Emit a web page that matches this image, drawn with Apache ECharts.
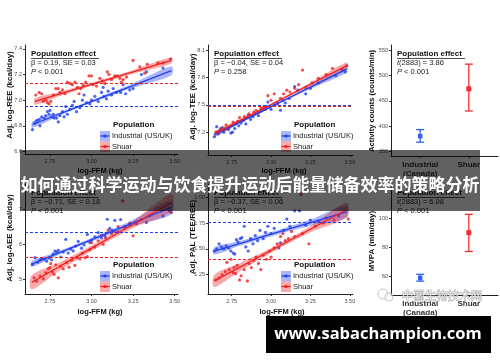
<!DOCTYPE html>
<html><head><meta charset="utf-8">
<script src="https://cdn.jsdelivr.net/npm/echarts@6/dist/echarts.min.js"></script>
<style>html,body{margin:0;padding:0;background:#fff}#c{width:500px;height:362px}</style>
</head><body><div id="c"></div>
<script>
// ---------- DATA ----------
const xTicks = [2.75, 3.00, 3.25, 3.50];
const groupNames = ['Industrial (US/UK)', 'Shuar'];
const catLabels = ['Industrial\n(Canada)', 'Shuar'];

// Panel 1: Adj. log-REE
const reeInd = [[2.645,6.77],[2.66,6.82],[2.67,6.84],[2.685,6.85],[2.69,6.80],[2.70,6.87],[2.715,6.86],[2.725,6.88],[2.735,6.91],[2.745,6.89],[2.75,6.92],[2.76,6.87],[2.77,6.89],[2.775,6.86],[2.79,6.86],[2.80,6.83],[2.81,6.88],[2.825,6.91],[2.835,6.87],[2.845,6.95],[2.855,6.89],[2.87,6.93],[2.885,6.96],[2.895,6.99],[2.91,6.91],[2.93,6.94],[2.945,7.00],[2.955,7.04],[2.97,6.98],[2.99,6.97],[3.00,7.00],[3.02,7.03],[3.04,6.99],[3.06,7.06],[3.07,7.10],[3.075,7.03],[3.09,7.01],[3.10,7.07],[3.12,7.04],[3.13,7.09],[3.15,7.06],[3.175,7.06],[3.19,7.12],[3.205,7.05],[3.23,7.08],[3.25,7.09],[3.30,7.20],[3.33,7.22],[3.43,7.25]];
const reeShu = [[2.665,7.04],[2.685,7.06],[2.70,7.05],[2.71,6.99],[2.725,7.00],[2.735,6.98],[2.745,6.97],[2.755,6.99],[2.77,7.04],[2.785,7.09],[2.80,7.09],[2.81,7.06],[2.825,7.08],[2.84,7.05],[2.855,7.14],[2.87,7.13],[2.885,7.12],[2.90,7.14],[2.915,7.10],[2.925,7.05],[2.935,7.09],[2.95,7.12],[2.965,7.14],[2.985,7.19],[3.00,7.19],[3.01,7.12],[3.03,7.11],[3.05,7.17],[3.065,7.15],[3.08,7.13],[3.095,7.22],[3.105,7.20],[3.12,7.16],[3.14,7.19],[3.155,7.19],[3.17,7.17],[3.18,7.14],[3.19,7.16],[3.21,7.18],[3.25,7.31],[3.29,7.26],[3.32,7.21],[3.335,7.28],[3.40,7.29],[3.43,7.29],[3.475,7.32]];
// fit bands: [x, lower, fit, upper]
const reeIndFit = [[2.645,6.785,6.81,6.835],[2.80,6.874,6.888,6.902],[2.98,6.969,6.979,6.989],[3.25,7.096,7.114,7.132],[3.48,7.195,7.23,7.265]];
const reeShuFit = [[2.66,6.965,6.99,7.015],[2.80,7.028,7.045,7.062],[2.98,7.103,7.115,7.127],[3.25,7.205,7.22,7.235],[3.48,7.285,7.31,7.335]];
const reeMeans = [6.945, 7.13];

// Panel 2: Adj. log-TEE
const teeInd = [[2.64,7.15],[2.655,7.26],[2.665,7.21],[2.68,7.23],[2.69,7.25],[2.70,7.20],[2.715,7.24],[2.73,7.23],[2.745,7.19],[2.755,7.20],[2.76,7.28],[2.77,7.24],[2.785,7.31],[2.795,7.27],[2.81,7.30],[2.825,7.33],[2.84,7.29],[2.855,7.39],[2.87,7.34],[2.885,7.37],[2.90,7.40],[2.92,7.38],[2.935,7.43],[2.95,7.46],[2.97,7.48],[2.98,7.53],[3.00,7.45],[3.02,7.50],[3.04,7.52],[3.06,7.44],[3.075,7.55],[3.09,7.52],[3.115,7.57],[3.15,7.70],[3.17,7.66],[3.22,7.62],[3.25,7.68],[3.30,7.74],[3.41,7.82],[3.47,7.86]];
const teeShu = [[2.65,7.20],[2.665,7.18],[2.68,7.24],[2.70,7.22],[2.715,7.28],[2.73,7.25],[2.745,7.27],[2.76,7.31],[2.775,7.29],[2.79,7.32],[2.80,7.36],[2.815,7.33],[2.83,7.37],[2.845,7.36],[2.86,7.40],[2.875,7.38],[2.89,7.42],[2.905,7.44],[2.92,7.41],[2.935,7.46],[2.95,7.47],[2.965,7.45],[2.98,7.60],[3.00,7.55],[3.02,7.62],[3.04,7.51],[3.06,7.57],[3.08,7.62],[3.10,7.66],[3.12,7.64],[3.15,7.68],[3.175,7.72],[3.20,7.88],[3.22,7.69],[3.26,7.74],[3.30,7.79],[3.35,7.83],[3.39,7.90],[3.45,7.89],[3.48,7.93]];
const teeIndFit = [[2.64,7.145,7.17,7.195],[2.80,7.292,7.307,7.322],[2.98,7.45,7.461,7.472],[3.25,7.675,7.693,7.711],[3.48,7.855,7.89,7.925]];
const teeShuFit = [[2.65,7.165,7.19,7.215],[2.80,7.309,7.324,7.339],[2.98,7.472,7.484,7.496],[3.25,7.705,7.725,7.745],[3.48,7.895,7.93,7.965]];
const teeMeans = [7.50, 7.48];

// Panel 3: Activity counts (mean, lower, upper)
const actInd = [1, 380, 368, 393];
const actShu = [2, 474, 430, 523];

// Panel 4: Adj. log-AEE
const aeeInd = [[2.645,5.43],[2.66,5.62],[2.675,5.49],[2.69,5.55],[2.70,5.60],[2.715,5.58],[2.73,5.52],[2.745,5.61],[2.76,5.56],[2.77,5.73],[2.78,5.81],[2.79,5.78],[2.80,5.83],[2.815,5.64],[2.83,5.78],[2.845,6.14],[2.86,5.75],[2.875,5.86],[2.89,5.81],[2.905,5.95],[2.92,6.08],[2.94,5.89],[2.955,5.98],[2.975,6.28],[2.99,6.05],[3.00,6.12],[3.02,6.21],[3.04,6.33],[3.06,6.18],[3.08,6.24],[3.095,6.71],[3.11,6.45],[3.125,6.40],[3.14,6.68],[3.16,6.35],[3.175,6.70],[3.20,6.50],[3.23,6.55],[3.27,6.58],[3.33,6.62],[3.43,6.80],[3.47,6.94]];
const aeeShu = [[2.655,5.05],[2.67,4.95],[2.69,5.10],[2.71,5.02],[2.725,5.20],[2.74,5.30],[2.75,5.34],[2.755,5.45],[2.765,5.22],[2.775,5.15],[2.785,5.42],[2.80,5.05],[2.815,5.38],[2.83,5.30],[2.85,5.48],[2.865,5.35],[2.88,5.55],[2.90,5.40],[2.915,5.62],[2.93,5.58],[2.945,5.75],[2.96,5.62],[2.975,5.65],[2.99,5.85],[3.00,6.05],[3.02,5.92],[3.04,6.10],[3.06,6.25],[3.07,6.00],[3.085,6.18],[3.10,6.40],[3.12,6.30],[3.14,6.36],[3.16,6.50],[3.188,7.23],[3.20,6.48],[3.23,6.60],[3.25,6.24],[3.30,6.70],[3.35,6.82],[3.42,6.95],[3.48,6.90]];
const aeeIndFit = [[2.64,5.36,5.44,5.52],[2.80,5.697,5.747,5.797],[2.98,6.042,6.092,6.142],[3.25,6.519,6.609,6.699],[3.48,6.85,7.05,7.25]];
const aeeShuFit = [[2.64,4.72,4.92,5.12],[2.80,5.23,5.35,5.47],[2.98,5.755,5.835,5.915],[3.25,6.461,6.561,6.661],[3.48,6.93,7.18,7.43]];
const aeeMeans = [6.33, 5.63];

// Panel 5: Adj. PAL
const palInd = [[2.64,1.48],[2.655,1.50],[2.67,1.55],[2.685,1.52],[2.70,1.50],[2.715,1.53],[2.73,1.51],[2.745,1.48],[2.76,1.46],[2.77,1.45],[2.78,1.59],[2.79,1.57],[2.805,1.60],[2.815,1.61],[2.83,1.72],[2.84,1.52],[2.855,1.48],[2.87,1.60],[2.885,1.55],[2.90,1.63],[2.915,1.58],[2.93,1.68],[2.95,1.60],[2.965,1.66],[2.98,1.72],[3.00,1.65],[3.02,1.70],[3.05,1.51],[3.06,1.56],[3.08,1.68],[3.10,1.79],[3.12,1.72],[3.15,1.87],[3.18,1.87],[3.22,1.73],[3.25,1.78],[3.30,1.77],[3.35,1.80],[3.43,1.82]];
const palShu = [[2.65,1.20],[2.67,1.22],[2.69,1.25],[2.71,1.28],[2.72,1.37],[2.735,1.30],[2.745,1.40],[2.76,1.27],[2.765,1.32],[2.775,1.26],[2.785,1.34],[2.80,1.20],[2.81,1.24],[2.83,1.30],[2.85,1.19],[2.86,1.36],[2.875,1.32],[2.89,1.39],[2.905,1.42],[2.92,1.36],[2.935,1.30],[2.95,1.44],[2.97,1.40],[2.99,1.48],[3.00,1.42],[3.02,1.51],[3.04,1.55],[3.06,1.62],[3.075,1.65],[3.09,1.58],[3.11,1.60],[3.13,1.67],[3.15,1.62],[3.19,2.03],[3.20,1.65],[3.24,1.55],[3.28,1.72],[3.33,1.75],[3.40,1.78],[3.49,1.79]];
const palIndFit = [[2.64,1.445,1.48,1.515],[2.80,1.53,1.552,1.574],[2.98,1.614,1.634,1.654],[3.25,1.726,1.756,1.786],[3.48,1.80,1.86,1.92]];
const palShuFit = [[2.64,1.13,1.19,1.25],[2.80,1.281,1.321,1.361],[2.98,1.444,1.469,1.494],[3.25,1.661,1.691,1.721],[3.48,1.81,1.88,1.95]];
const palMeans = [1.76, 1.40];

// Panel 6: MVPA (mean, lower, upper)
const mvpaInd = [1, 58.7, 56.5, 61.2];
const mvpaShu = [2, 90, 77, 102.7];

// Tick values
const yTicks = [[6.6,6.8,7.0,7.2,7.4],[7.2,7.5,7.8,8.1],[350,400,450,500,550],[5,6,7],[1.25,1.50,1.75,2.00],[60,80,100]];
const yDec = [1,1,0,0,2,0];
const yRange = [[6.58,7.43],[6.95,8.155],[340.6,561],[4.59,7.71],[1.063,2.13],[46.9,123.7]];

// ---------- STYLE ----------
const BLUE = '#2040f0', RED = '#f02020';
const BLUE_BAND = 'rgba(32,64,240,0.38)', RED_BAND = 'rgba(240,32,32,0.38)';
const FF = '"Liberation Sans", Arial, Helvetica, sans-serif';

const grids = [
  {left:25, top:45, width:153, height:109},
  {left:208, top:45, width:145, height:110},
  {left:391, top:45, width:107, height:111},
  {left:25, top:184, width:153, height:110},
  {left:208, top:184, width:145, height:110},
  {left:391, top:184, width:107, height:111}
];
const isCat = [false,false,true,false,false,true];

const xAxes = grids.map((g,i)=>({
  type:'value', gridIndex:i,
  min: isCat[i]?0.4:2.6, max: isCat[i]?2.6:3.52,
  axisLine:{show:true,onZero:false,lineStyle:{color:'#222',width:1}},
  axisTick:{show:true,length:2,lineStyle:{color:'#333'},customValues: isCat[i]?[1,2]:xTicks},
  axisLabel:isCat[i]?{
      customValues:[1,2], formatter:v=>catLabels[Math.round(v)-1],
      fontSize:8, fontWeight:'bold', color:'#333', fontFamily:FF, margin:4, lineHeight:9.5
    }:{customValues:xTicks, formatter:v=>v.toFixed(2), fontSize:5.5, color:'#4d4d4d', fontFamily:FF, margin:4},
  splitLine:{show:false}
}));
const yAxes = grids.map((g,i)=>({
  type:'value', gridIndex:i, min:yRange[i][0], max:yRange[i][1],
  axisLine:{show:true,onZero:false,lineStyle:{color:'#222',width:1}},
  axisTick:{show:true,length:2,lineStyle:{color:'#333'},customValues:yTicks[i]},
  axisLabel:{customValues:yTicks[i], formatter:v=>v.toFixed(yDec[i]), fontSize:5.5, color:'#4d4d4d', fontFamily:FF, margin:3},
  splitLine:{show:false}
}));

function bandSeries(idx, fit, color){
  return {type:'custom', xAxisIndex:idx, yAxisIndex:idx, data:fit, silent:true, z:3,
    renderItem:(params, api)=>{
      if(params.dataIndex!==0) return;
      const pts=[];
      fit.forEach(r=>pts.push(api.coord([r[0],r[3]])));
      fit.slice().reverse().forEach(r=>pts.push(api.coord([r[0],r[1]])));
      return {type:'polygon', shape:{points:pts, smooth:0.3}, style:{fill:color}};
    }};
}
function fitLine(idx, fit, color){
  return {type:'line', xAxisIndex:idx, yAxisIndex:idx, data:fit.map(r=>[r[0],r[2]]),
    showSymbol:false, symbol:'none', smooth:true, lineStyle:{color, width:1.3}, z:4, silent:true};
}
function scatter(idx, data, color, mean){
  return {type:'scatter', xAxisIndex:idx, yAxisIndex:idx, data, symbolSize:3.2,
    itemStyle:{color}, z:2, silent:true,
    markLine:{silent:true, symbol:['none','none'], label:{show:false}, animation:false,
      lineStyle:{type:[3,2], width:1, color}, data:[{yAxis:mean}]}};
}
function errBar(idx, d, color, sq){
  return {type:'custom', xAxisIndex:idx, yAxisIndex:idx, data:[d], silent:true, z:5,
    renderItem:(params, api)=>{
      const m = api.coord([api.value(0), api.value(1)]);
      const lo = api.coord([api.value(0), api.value(2)]);
      const hi = api.coord([api.value(0), api.value(3)]);
      const s={stroke:color, lineWidth:1.3};
      return {type:'group', children:[
        {type:'line', shape:{x1:lo[0],y1:lo[1],x2:hi[0],y2:hi[1]}, style:s},
        {type:'line', shape:{x1:lo[0]-4,y1:lo[1],x2:lo[0]+4,y2:lo[1]}, style:s},
        {type:'line', shape:{x1:hi[0]-4,y1:hi[1],x2:hi[0]+4,y2:hi[1]}, style:s},
        {type:'rect', shape:{x:m[0]-sq/2,y:m[1]-sq/2,width:sq,height:sq}, style:{fill:color}}
      ]};
    }};
}

const series = [];
const panels = [
  [0, reeInd, reeShu, reeIndFit, reeShuFit, reeMeans],
  [1, teeInd, teeShu, teeIndFit, teeShuFit, teeMeans],
  [3, aeeInd, aeeShu, aeeIndFit, aeeShuFit, aeeMeans],
  [4, palInd, palShu, palIndFit, palShuFit, palMeans]
];
panels.forEach(p=>{
  const [i, di, ds, fi, fs, mn] = p;
  series.push(scatter(i, di, BLUE, mn[0]));
  series.push(scatter(i, ds, RED, mn[1]));
  series.push(bandSeries(i, fi, BLUE_BAND));
  series.push(bandSeries(i, fs, RED_BAND));
  series.push(fitLine(i, fi, BLUE));
  series.push(fitLine(i, fs, RED));
});
series.push(errBar(2, actInd, '#3060ee', 4.5));
series.push(errBar(2, actShu, '#f03030', 5));
series.push(errBar(5, mvpaInd, '#3060ee', 4.5));
series.push(errBar(5, mvpaShu, '#f03030', 5));

// ---------- GRAPHIC (text, legends, overlays) ----------
const G = [];
function txt(x,y,t,o){
  o=o||{};
  G.push({type:'text', x, y, rotation:o.rot||0, z:o.z||50, silent:true,
    style:{text:t, fontSize:o.fs||7.5, fontWeight:o.fw||'normal', fontFamily:o.ff||FF,
      fill:o.fill||'#222', align:o.align||'left', verticalAlign:'middle', rich:o.rich}});
}
const RICH = {i:{fontStyle:'italic', fontSize:7.5, fontFamily:FF, fill:'#222'}};
function annot(x,y,l2,l3){
  txt(x,y,'Population effect',{fs:8,fw:'bold',fill:'#111'});
  G.push({type:'rect', z:50, silent:true, shape:{x:x, y:y+4.2, width:68, height:0.8}, style:{fill:'#111'}});
  txt(x,y+9,l2,{rich:RICH});
  txt(x,y+18,l3,{rich:RICH});
}
annot(31,54,'β = 0.19, SE = 0.03','{i|P} < 0.001');
annot(214,54,'β = −0.04, SE = 0.04','{i|P} = 0.258');
annot(397,54,'{i|t}(2883) = 3.86','{i|P} < 0.001');
annot(31,193,'β = −0.71, SE = 0.18','{i|P} < 0.001');
annot(214,193,'β = −0.37, SE = 0.06','{i|P} < 0.001');
annot(397,193,'{i|t}(2883) = 6.08','{i|P} < 0.001');

function legend(x,y){
  txt(x+13,y,'Population',{fs:8,fw:'bold',fill:'#111'});
  [[BLUE,BLUE_BAND],[RED,RED_BAND]].forEach((c,k)=>{
    const cy=y+11+k*10.5;
    G.push({type:'rect', z:45, silent:true, shape:{x:x, y:cy-5, width:10, height:10.5}, style:{fill:c[1]}});
    G.push({type:'line', z:46, silent:true, shape:{x1:x+0.5,y1:cy,x2:x+9.5,y2:cy}, style:{stroke:c[0],lineWidth:1.3}});
    G.push({type:'circle', z:47, silent:true, shape:{cx:x+5,cy:cy,r:1.6}, style:{fill:c[0]}});
    txt(x+12,cy,groupNames[k],{fs:7.5,fill:'#222'});
  });
}
legend(100,125);
legend(281,125);
legend(100,265);
legend(281,265);

// axis titles
const AT = {fw:'bold', fill:'#111'};
txt(100,171,'log-FFM (kg)',Object.assign({fs:7.5,align:'center'},AT));
txt(284,171,'log-FFM (kg)',Object.assign({fs:7.5,align:'center'},AT));
txt(100,311.5,'log-FFM (kg)',Object.assign({fs:7.5,align:'center'},AT));
txt(282,311.5,'log-FFM (kg)',Object.assign({fs:7.5,align:'center'},AT));
const R = Math.PI/2;
txt(9.5,95,'Adj. log-REE (kcal/day)',Object.assign({fs:8,align:'center',rot:R},AT));
txt(193,97,'Adj. log-TEE (kcal/day)',Object.assign({fs:8,align:'center',rot:R},AT));
txt(372,101,'Activity counts (counts/min)',Object.assign({fs:7.6,align:'center',rot:R},AT));
txt(9.5,238,'Adj. log-AEE (kcal/day)',Object.assign({fs:8,align:'center',rot:R},AT));
txt(193,237,'Adj. PAL (TEE/REE)',Object.assign({fs:8,align:'center',rot:R},AT));
txt(372,241,'MVPA (min/day)',Object.assign({fs:8,align:'center',rot:R},AT));

// watermark
G.push({type:'circle', z:60, silent:true, shape:{cx:383,cy:294,r:5}, style:{fill:'rgba(255,255,255,0.6)',stroke:'rgba(150,150,150,0.7)',lineWidth:0.8}});
G.push({type:'circle', z:60, silent:true, shape:{cx:389,cy:297,r:4}, style:{fill:'rgba(255,255,255,0.6)',stroke:'rgba(150,150,150,0.7)',lineWidth:0.8}});
G.push({type:'text', x:442, y:296, z:61, silent:true, style:{text:'中国生物技术网', fontSize:11.5, fontFamily:'"Noto Sans CJK SC", sans-serif',
  fill:'rgba(255,255,255,0.75)', stroke:'rgba(140,140,140,0.8)', lineWidth:0.8, align:'center', verticalAlign:'middle'}});

// title overlay
G.push({type:'rect', z:80, silent:true, shape:{x:20,y:150,width:460,height:61}, style:{fill:'rgba(0,0,0,0.62)'}});
G.push({type:'text', x:250, y:185, z:81, silent:true, style:{text:'如何通过科学运动与饮食提升运动后能量储备效率的策略分析',
  fontSize:17, fontWeight:'bold', fontFamily:'"Noto Sans CJK SC", sans-serif', fill:'#fff', align:'center', verticalAlign:'middle'}});

// url box
G.push({type:'rect', z:80, silent:true, shape:{x:266,y:316,width:225,height:37}, style:{fill:'#000'}});
G.push({type:'text', x:378, y:334.5, z:81, silent:true, style:{text:'www.sabachampion.com',
  fontSize:16.5, fontWeight:'bold', fontFamily:'"Open Sans", "DejaVu Sans", sans-serif', fill:'#fff', align:'center', verticalAlign:'middle'}});

const chart = echarts.init(document.getElementById('c'), null, {renderer:'canvas'});
chart.setOption({
  animation:false, backgroundColor:'#fff',
  grid:grids, xAxis:xAxes, yAxis:yAxes, series, graphic:G
});
</script></body></html>
